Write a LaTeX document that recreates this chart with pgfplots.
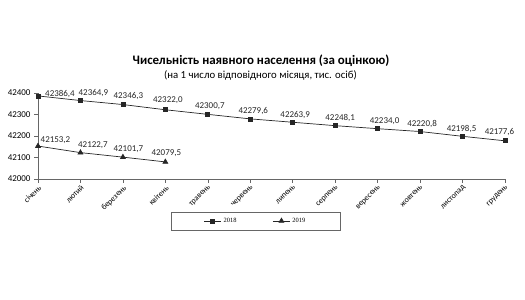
\documentclass[border=0pt]{standalone}
\usepackage{pgfplots}
\pgfplotsset{compat=1.18}
\usepackage{pgfplotstable}
\usepackage{fontspec}
\setmainfont{Carlito}
\newfontfamily\legfont{Liberation Serif}

% x = month index (0 = січень), y = тис. осіб, dx/dy = label offset (bp)
\pgfplotstableread{
x y dx dy
0 42386.4 22 2
1 42364.9 13 7
2 42346.3 5.5 8
3 42322.0 2.5 10
4 42300.7 2 8.5
5 42279.6 3 7.5
6 42263.9 2.5 7.5
7 42248.1 5 7.7
8 42234.0 7 7.7
9 42220.8 2 7.5
10 42198.5 -1 7.7
11 42177.6 -5.5 8.3
}\dataA

\pgfplotstableread{
x y dx dy
0 42153.2 17.5 6
1 42122.7 12.5 7
2 42101.7 5.5 8
3 42079.5 1 9
}\dataB

\begin{document}
\begin{tikzpicture}
\path[use as bounding box] (0bp,0bp) rectangle (525bp,300bp);
\node[font=\bfseries\fontsize{13}{15}\selectfont] at (261bp,239.5bp) {Чисельність наявного населення (за оцінкою)};
\node[font=\fontsize{10.8}{12}\selectfont] at (260.5bp,225bp) {(на 1 число відповідного місяця, тис. осіб)};
\begin{axis}[
    at={(38bp,121bp)}, anchor=south west,
    scale only axis, width=467bp, height=86bp,
    xmin=0, xmax=11, ymin=42000, ymax=42400,
    clip=false,
    axis x line*=bottom, axis y line*=left,
    axis line style={black!60, line width=0.8pt},
    tick align=outside, major tick length=4bp,
    tick style={black!60, line width=0.6pt},
    xtick={0,...,11},
    xticklabels={січень,лютий,березень,квітень,травень,червень,липень,серпень,вересень,жовтень,листопад,грудень},
    xticklabel style={rotate=45, anchor=north east, inner sep=1pt, font=\fontsize{8}{9}\selectfont},
    ytick={42000,42100,...,42400},
    scaled y ticks=false,
    yticklabel style={font=\fontsize{9}{10}\selectfont, /pgf/number format/1000 sep={}},
    /pgf/number format/assume math mode=true,
    visualization depends on={\thisrow{dx}\as\dx},
    visualization depends on={\thisrow{dy}\as\dy},
    nodes near coords={\pgfmathprintnumber[fixed,fixed zerofill,precision=1,use comma,1000 sep={}]{\pgfplotspointmeta}},
    nodes near coords style={anchor=center, xshift=\dx bp, yshift=\dy bp, font=\fontsize{9}{10}\selectfont, inner sep=0pt, black!85},
    legend columns=2,
    legend style={at={(0.466,-0.488)}, anchor=center, draw=black!60, line width=0.6pt,
        font=\legfont\fontsize{6.5}{7}\selectfont, inner xsep=33bp, inner ysep=4bp,
        /tikz/every even column/.append style={column sep=34bp}},
]
\addplot[black!85, line width=0.7pt, mark=square*, mark size=2pt, mark options={solid}] table[x=x, y=y] {\dataA};
\addlegendentry{2018}
\addplot[black!85, line width=0.7pt, mark=triangle*, mark size=2.8pt, mark options={solid}] table[x=x, y=y] {\dataB};
\addlegendentry{2019}
\end{axis}
\end{tikzpicture}
\end{document}
